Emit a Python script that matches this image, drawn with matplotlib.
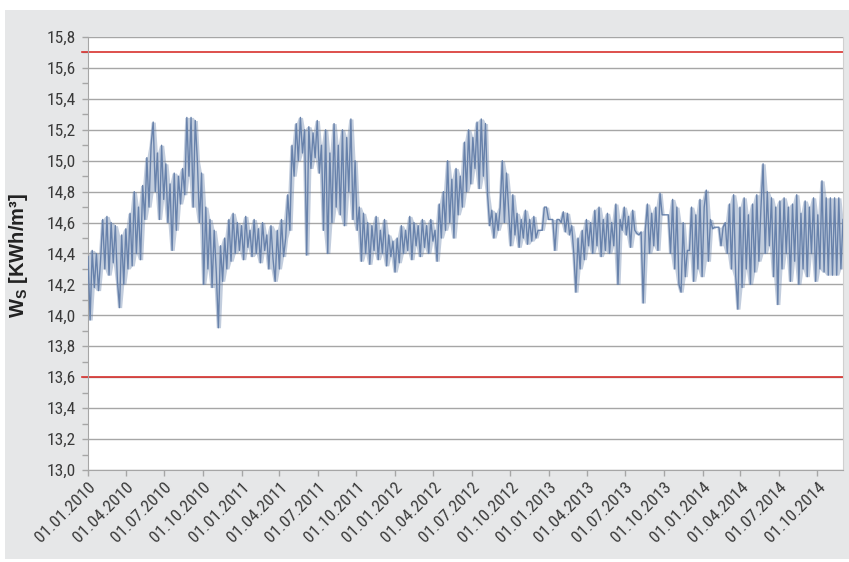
import numpy as np
import matplotlib
matplotlib.use("Agg")
import matplotlib.pyplot as plt
import matplotlib.dates as mdates
from matplotlib.patches import Rectangle
from matplotlib.ticker import MultipleLocator, FixedLocator
from matplotlib import font_manager

# ---------------- data ----------------
start_date = "2010-01-01"
step_days = 5
end_date = "2014-12-01"

ws_values = [
    14.38, 13.97, 14.42, 14.18, 14.40, 14.16, 14.36, 14.62, 14.30, 14.64,
    14.26, 14.60, 14.34, 14.58, 14.22, 14.05, 14.52, 14.20, 14.56, 14.30,
    14.66, 14.32, 14.80, 14.40, 14.70, 14.36, 14.84, 14.62, 15.02, 14.70,
    15.10, 15.25, 14.80, 15.05, 14.62, 15.10, 14.75, 14.98, 14.60, 14.85,
    14.42, 14.92, 14.55, 14.90, 14.72, 14.95, 14.78, 15.28, 14.90, 15.28,
    14.70, 15.26, 15.00, 14.60, 14.92, 14.20, 14.70, 14.30, 14.62, 14.18,
    14.55, 14.28, 13.92, 14.45, 14.22, 14.50, 14.30, 14.62, 14.35, 14.66,
    14.40, 14.60, 14.42, 14.58, 14.36, 14.64, 14.44, 14.55, 14.38, 14.62,
    14.40, 14.56, 14.34, 14.60, 14.42, 14.52, 14.30, 14.58, 14.36, 14.22,
    14.55, 14.30, 14.62, 14.38, 14.50, 14.78, 14.55, 15.10, 14.90, 15.24,
    15.00, 15.28, 15.05, 15.20, 14.39, 15.22, 14.95, 15.18, 15.02, 15.26,
    14.92, 15.10, 14.55, 15.20, 14.40, 15.05, 14.60, 15.24, 14.70, 15.10,
    14.65, 15.20, 14.58, 15.15, 14.80, 15.27, 14.62, 15.00, 14.55, 14.70,
    14.35, 14.66, 14.40, 14.60, 14.33, 14.58, 14.42, 14.64, 14.36, 14.55,
    14.40, 14.62, 14.32, 14.52, 14.38, 14.48, 14.28, 14.50, 14.34, 14.58,
    14.40, 14.55, 14.42, 14.64, 14.36, 14.60, 14.45, 14.58, 14.38, 14.62,
    14.44, 14.58, 14.40, 14.62, 14.48, 14.55, 14.35, 14.72, 14.50, 14.80,
    14.55, 15.00, 14.60, 14.88, 14.50, 14.95, 14.65, 14.90, 14.70, 15.12,
    14.80, 15.20, 14.85, 15.15, 14.95, 15.25, 14.82, 15.27, 14.90, 15.24,
    14.78, 14.58, 14.68, 14.50, 14.66, 14.55, 14.70, 15.00, 14.60, 14.92,
    14.68, 14.45, 14.78, 14.52, 14.66, 14.44, 14.62, 14.50, 14.68, 14.46,
    14.62, 14.48, 14.64, 14.50, 14.55, 14.55, 14.55, 14.70, 14.70, 14.62,
    14.62, 14.62, 14.42, 14.62, 14.62, 14.60, 14.67, 14.54, 14.66, 14.52,
    14.58, 14.40, 14.15, 14.50, 14.30, 14.55, 14.36, 14.62, 14.45, 14.60,
    14.40, 14.68, 14.45, 14.70, 14.38, 14.62, 14.42, 14.66, 14.40, 14.60,
    14.45, 14.72, 14.20, 14.62, 14.55, 14.70, 14.52, 14.64, 14.44, 14.68,
    14.55, 14.53, 14.52, 14.54, 14.08, 14.55, 14.72, 14.40, 14.66, 14.45,
    14.70, 14.42, 14.79, 14.65, 14.65, 14.65, 14.65, 14.40, 14.75, 14.30,
    14.70, 14.20, 14.15, 14.60, 14.25, 14.42, 14.42, 14.70, 14.22, 14.65,
    14.30, 14.75, 14.25, 14.70, 14.81, 14.35, 14.62, 14.56, 14.57, 14.57,
    14.57, 14.45, 14.57, 14.60, 14.40, 14.72, 14.30, 14.78, 14.25, 14.04,
    14.70, 14.18, 14.76, 14.30, 14.65, 14.20, 14.72, 14.28, 14.78, 14.35,
    14.70, 14.98, 14.40, 14.80, 14.45, 14.76, 14.25, 14.70, 14.07, 14.74,
    14.30, 14.76, 14.40, 14.70, 14.22, 14.72, 14.35, 14.78, 14.20, 14.66,
    14.30, 14.74, 14.25, 14.70, 14.40, 14.76, 14.22, 14.65, 14.30, 14.87,
    14.28, 14.76, 14.26, 14.76, 14.26, 14.76, 14.26, 14.76, 14.30, 14.62,
]

limit_upper = 15.7
limit_lower = 13.6

tick_dates = [
    "2010-01-01", "2010-04-01", "2010-07-01", "2010-10-01",
    "2011-01-01", "2011-04-01", "2011-07-01", "2011-10-01",
    "2012-01-01", "2012-04-01", "2012-07-01", "2012-10-01",
    "2013-01-01", "2013-04-01", "2013-07-01", "2013-10-01",
    "2014-01-01", "2014-04-01", "2014-07-01", "2014-10-01",
]
tick_labels = [
    "01.01.2010", "01.04.2010", "01.07.2010", "01.10.2010",
    "01.01.2011", "01.04.2011", "01.07.2011", "01.10.2011",
    "01.01.2012", "01.04.2012", "01.07.2012", "01.10.2012",
    "01.01.2013", "01.04.2013", "01.07.2013", "01.10.2013",
    "01.01.2014", "01.04.2014", "01.07.2014", "01.10.2014",
]
y_ticks = [13.0, 13.2, 13.4, 13.6, 13.8, 14.0, 14.2, 14.4, 14.6, 14.8,
           15.0, 15.2, 15.4, 15.6, 15.8]
y_tick_labels = ["13,0", "13,2", "13,4", "13,6", "13,8", "14,0", "14,2", "14,4",
                 "14,6", "14,8", "15,0", "15,2", "15,4", "15,6", "15,8"]
y_label_main = "W"
y_label_sub = "S"
y_label_unit = " [KWh/m³]"

# ---------------- style ----------------
available = {f.name for f in font_manager.fontManager.ttflist}
families = [f for f in ["Liberation Sans Narrow", "DejaVu Sans Condensed",
                        "Roboto Condensed", "Liberation Sans", "DejaVu Sans"]
            if f in available]
plt.rcParams["font.family"] = families
label_families = [f for f in ["Liberation Sans", "DejaVu Sans"] if f in available]

W, H = 849, 562
fig = plt.figure(figsize=(W / 100, H / 100), dpi=100, facecolor="white")
bg = Rectangle((5 / W, 3 / H), 1 - 5 / W, (H - 13) / H,
               transform=fig.transFigure, facecolor="#e6e7e8",
               edgecolor="none", zorder=-10)
fig.add_artist(bg)

ax = fig.add_axes([88 / W, (H - 470) / H, 755 / W, 433 / H])
ax.set_zorder(5)
ax.set_facecolor("white")

vals = np.array(ws_values)
dates = (np.datetime64(start_date) +
         np.arange(len(vals)) * np.timedelta64(step_days, "D"))

# dense band between neighbouring readings (the original is a very dense line)
padded = np.concatenate([[vals[0]], vals, [vals[-1]]])
win = np.lib.stride_tricks.sliding_window_view(padded, 3)
band_lo = win.min(axis=1)
band_hi = win.max(axis=1)
ax.fill_between(dates, band_lo, band_hi, color="#6882ab", alpha=0.4,
                lw=0, zorder=2.5)
ax.plot(dates, vals, color="#6882ab", lw=1.0, zorder=3)

ax.axhline(limit_upper, xmin=-0.008, xmax=1, color="#d8312e", lw=1.2,
           clip_on=False, zorder=2)
ax.axhline(limit_lower, xmin=-0.008, xmax=1, color="#d8312e", lw=1.2,
           clip_on=False, zorder=2)

ax.set_ylim(13.0, 15.8)
ax.set_xlim(np.datetime64(start_date), np.datetime64(end_date))

ax.set_yticks(y_ticks)
ax.set_yticklabels(y_tick_labels, fontsize=12.5, color="#3a3a3a")
ax.yaxis.set_minor_locator(MultipleLocator(0.1))
ax.grid(axis="y", which="major", color="#a6a6a6", lw=1.0, zorder=1)

tick_pos = [mdates.date2num(np.datetime64(d)) for d in tick_dates]
ax.xaxis.set_major_locator(FixedLocator(tick_pos))
ax.set_xticklabels(tick_labels, rotation=45, ha="right", va="top",
                   rotation_mode="anchor", fontsize=12.5, color="#3a3a3a")

ax.tick_params(axis="y", which="major", length=4, width=1, color="#a6a6a6", pad=5)
ax.tick_params(axis="y", which="minor", length=4, width=1, color="#a6a6a6")
ax.tick_params(axis="x", which="major", length=4, width=1, color="#a6a6a6", pad=3)

ax.spines["top"].set_visible(False)
ax.spines["right"].set_color("#d0d0d0")
ax.spines["left"].set_color("#a6a6a6")
ax.spines["bottom"].set_color("#a6a6a6")

# y-axis label: bold "W" with subscript "S", then unit
plt.rcParams["mathtext.fontset"] = "custom"
plt.rcParams["mathtext.bf"] = label_families[0] + ":bold"
plt.rcParams["mathtext.rm"] = label_families[0]
fig.text(19 / W, (H - 255) / H,
         y_label_main + "$_{\\mathbf{" + y_label_sub + "}}$" + y_label_unit,
         rotation=90, ha="center", va="center", fontsize=14.5,
         fontweight="bold", color="#222222", family=label_families)

fig.savefig("out.png", dpi=100, facecolor="white")
